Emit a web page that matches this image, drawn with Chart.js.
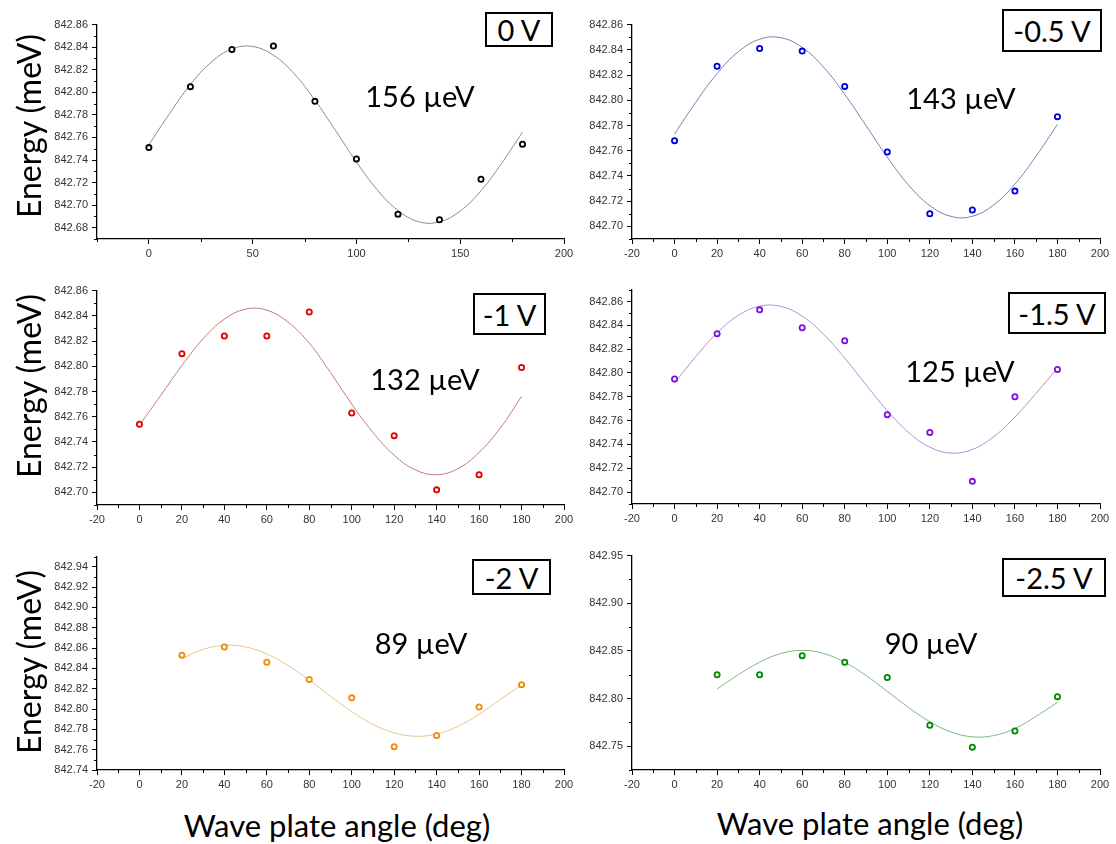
<!DOCTYPE html>
<html>
<head>
<meta charset="utf-8">
<script src="https://cdn.jsdelivr.net/npm/chart.js@4.4.1/dist/chart.umd.min.js"></script>
<style>
    body { margin: 0; width: 1116px; height: 844px; background: #fff; position: relative; overflow: hidden; }
    canvas { position: absolute; }
    .big { position: absolute; font-family: Lato, sans-serif; font-size: 29px; color: #000; white-space: nowrap; transform: translate(-50%, -50%); line-height: 1; }
    .axt { font-size: 31px; }
    .ytitle { font-size: 32px; transform: translate(-50%, -50%) rotate(-90deg); }
    .box { position: absolute; border: 2px solid #000; box-sizing: border-box; font-family: Lato, sans-serif; font-size: 29px; display: flex; align-items: center; justify-content: center; background: #fff; }
</style>
</head>
<body>
<canvas id="p1" width="547" height="250" style="left:37px; top:14px"></canvas>
<canvas id="p2" width="544" height="250" style="left:572px; top:14px"></canvas>
<canvas id="p3" width="547" height="250" style="left:37px; top:280px"></canvas>
<canvas id="p4" width="544" height="250" style="left:572px; top:279px"></canvas>
<canvas id="p5" width="547" height="249" style="left:37px; top:546px"></canvas>
<canvas id="p6" width="544" height="250" style="left:572px; top:545px"></canvas>

<div class="big ytitle" style="left:29px; top:126px">Energy (meV)</div>
<div class="big ytitle" style="left:29px; top:386px">Energy (meV)</div>
<div class="big ytitle" style="left:29px; top:662px">Energy (meV)</div>
<div class="big axt" style="left:337px; top:825px">Wave plate angle (deg)</div>
<div class="big axt" style="left:870px; top:823px">Wave plate angle (deg)</div>

<div class="big" style="left:420px; top:95px">156 µeV</div>
<div class="big" style="left:961px; top:97px">143 µeV</div>
<div class="big" style="left:425px; top:378px">132 µeV</div>
<div class="big" style="left:960px; top:370px">125 µeV</div>
<div class="big" style="left:421px; top:642px">89 µeV</div>
<div class="big" style="left:931px; top:642px">90 µeV</div>

<div class="box" style="left:485px; top:12px; width:68px; height:35px">0 V</div>
<div class="box" style="left:1002px; top:9px; width:100px; height:43px">-0.5 V</div>
<div class="box" style="left:473px; top:293px; width:73px; height:42px">-1 V</div>
<div class="box" style="left:1008px; top:292px; width:98px; height:42px">-1.5 V</div>
<div class="box" style="left:472px; top:559px; width:79px; height:36px">-2 V</div>
<div class="box" style="left:1002px; top:558px; width:104px; height:39px">-2.5 V</div>

<script>
// Measured angles (deg)
const angles = [0, 20, 40, 60, 80, 100, 120, 140, 160, 180];
const angles20 = [20, 40, 60, 80, 100, 120, 140, 160, 180];
// Fit curves sampled every 10 deg
const fitAngles = [0, 10, 20, 30, 40, 50, 60, 70, 80, 90, 100, 110, 120, 130, 140, 150, 160, 170, 180];
const fitAngles20 = [20, 30, 40, 50, 60, 70, 80, 90, 100, 110, 120, 130, 140, 150, 160, 170, 180];

// Peak energies (meV) per bias voltage
const e0V = [842.751, 842.805, 842.838, 842.841, 842.792, 842.741, 842.692, 842.687, 842.723, 842.754];
const eM05V = [842.768, 842.827, 842.841, 842.839, 842.811, 842.759, 842.710, 842.713, 842.728, 842.787];
const eM1V = [842.754, 842.810, 842.824, 842.824, 842.843, 842.763, 842.745, 842.702, 842.714, 842.799];
const eM15V = [842.795, 842.833, 842.853, 842.838, 842.827, 842.765, 842.750, 842.709, 842.780, 842.803];
const eM2V = [842.853, 842.861, 842.846, 842.829, 842.811, 842.763, 842.774, 842.802, 842.824];
const eM25V = [842.825, 842.825, 842.845, 842.838, 842.822, 842.772, 842.749, 842.766, 842.802];

// Sine fits
const fit0V = [842.7536, 842.7813, 842.8069, 842.8266, 842.8384, 842.8406, 842.8329, 842.8164, 842.7930, 842.7660, 842.7382, 842.7136, 842.6953, 842.6853, 842.6852, 842.6948, 842.7128, 842.7372, 842.7647];
const fitM05V = [842.7733, 842.7985, 842.8212, 842.8385, 842.8484, 842.8496, 842.8419, 842.8263, 842.8047, 842.7799, 842.7549, 842.7328, 842.7165, 842.7079, 842.7080, 842.7170, 842.7335, 842.7558, 842.7809];
const fitM1V = [842.7533, 842.7768, 842.8006, 842.8218, 842.8374, 842.8453, 842.8445, 842.8350, 842.8183, 842.7950, 842.7700, 842.7475, 842.7295, 842.7178, 842.7140, 842.7188, 842.7317, 842.7511, 842.7760];
const fitM15V = [842.7916, 842.8138, 842.8336, 842.8484, 842.8561, 842.8559, 842.8477, 842.8326, 842.8125, 842.7901, 842.7684, 842.7501, 842.7377, 842.7327, 842.7358, 842.7465, 842.7630, 842.7830, 842.8040];
const fitM2V = [842.8497, 842.8587, 842.8627, 842.8611, 842.8542, 842.8428, 842.8284, 842.8126, 842.7975, 842.7850, 842.7766, 842.7732, 842.7755, 842.7829, 842.7948, 842.8095, 842.8235];
const fitM25V = [842.8100, 842.8250, 842.8381, 842.8473, 842.8505, 842.8473, 842.8381, 842.8242, 842.8076, 842.7906, 842.7757, 842.7649, 842.7598, 842.7611, 842.7686, 842.7814, 842.7960];

// Axis ticks
const xTicks50 = [0, 50, 100, 150, 200];
const xTicks20 = [-20, 0, 20, 40, 60, 80, 100, 120, 140, 160, 180, 200];
const yTicks0V = [842.68, 842.70, 842.72, 842.74, 842.76, 842.78, 842.80, 842.82, 842.84, 842.86];
const yTicksMid = [842.70, 842.72, 842.74, 842.76, 842.78, 842.80, 842.82, 842.84, 842.86];
const yTicksM2V = [842.74, 842.76, 842.78, 842.80, 842.82, 842.84, 842.86, 842.88, 842.90, 842.92, 842.94];
const yTicksM25V = [842.75, 842.80, 842.85, 842.90, 842.95];

// short ticks between the labelled ones
const minorTicks = {
    id: 'minorTicks',
    afterDraw(chart, args, opts) {
        const ctx = chart.ctx;
        const area = chart.chartArea;
        ctx.save();
        ctx.strokeStyle = '#000';
        ctx.lineWidth = 1;
        ['x', 'y'].forEach(id => {
            const scale = chart.scales[id];
            const step = opts[id];
            const majors = scale.ticks.map(t => t.value);
            const start = Math.ceil(scale.min / step - 1e-6);
            const end = Math.floor(scale.max / step + 1e-6);
            for (let k = start; k <= end; k++) {
                const v = k * step;
                if (majors.some(m => Math.abs(m - v) < step / 10)) continue;
                const p = Math.round(scale.getPixelForValue(v)) + 0.5;
                ctx.beginPath();
                if (id === 'x') {
                    ctx.moveTo(p, area.bottom);
                    ctx.lineTo(p, area.bottom + 3);
                } else {
                    ctx.moveTo(area.left, p);
                    ctx.lineTo(area.left - 3, p);
                }
                ctx.stroke();
            }
        });
        ctx.restore();
    }
};

function toPoints(xs, ys) {
    return xs.map((x, i) => ({ x: x, y: ys[i] }));
}

function makePanel(id, p) {
    const tickFont = { family: 'Liberation Sans, Arial, sans-serif', size: 11 };
    return new Chart(document.getElementById(id), {
        type: 'scatter',
        data: {
            datasets: [{
                data: toPoints(p.xs, p.ys),
                pointStyle: 'circle',
                pointRadius: 2.6,
                pointBorderWidth: 1.8,
                borderColor: p.color,
                backgroundColor: '#fff',
                order: 0
            }, {
                data: toPoints(p.fitXs, p.fit),
                showLine: true,
                pointRadius: 0,
                borderColor: p.lineColor,
                borderWidth: 1,
                tension: 0.4,
                order: 1
            }]
        },
        options: {
            responsive: false,
            animation: false,
            layout: { padding: { top: 10, right: p.padRight, bottom: 0, left: 0 } },
            scales: {
                x: {
                    type: 'linear',
                    min: p.xMin,
                    max: 200,
                    afterBuildTicks: s => { s.ticks = p.xTicks.map(v => ({ value: v })); },
                    afterFit: s => { s.height = 25; },
                    grid: { drawOnChartArea: false, tickLength: 5, tickColor: '#000' },
                    border: { color: '#000', width: 1.3 },
                    ticks: { font: tickFont, color: '#333', padding: 3, maxRotation: 0 }
                },
                y: {
                    min: p.yMin,
                    max: p.yMax,
                    afterBuildTicks: s => { s.ticks = p.yTicks.map(v => ({ value: v })); },
                    afterFit: s => { s.width = 60; },
                    grid: { drawOnChartArea: false, tickLength: 5, tickColor: '#000' },
                    border: { color: '#000', width: 1.3 },
                    ticks: { font: tickFont, color: '#333', padding: 4, callback: v => v.toFixed(2) }
                }
            },
            plugins: {
                legend: { display: false },
                tooltip: { enabled: false },
                minorTicks: { x: p.xMinor, y: p.yMinor }
            }
        },
        plugins: [minorTicks]
    });
}

makePanel('p1', { xs: angles, ys: e0V, fitXs: fitAngles, fit: fit0V, color: '#000', lineColor: '#8a8a8a',
    xMin: -25, xTicks: xTicks50, xMinor: 25, yMin: 842.67, yMax: 842.86, yTicks: yTicks0V, yMinor: 0.01, padRight: 20 });
makePanel('p2', { xs: angles, ys: eM05V, fitXs: fitAngles, fit: fitM05V, color: '#0000dd', lineColor: '#7d7db2',
    xMin: -20, xTicks: xTicks20, xMinor: 10, yMin: 842.69, yMax: 842.86, yTicks: yTicksMid, yMinor: 0.01, padRight: 16 });
makePanel('p3', { xs: angles, ys: eM1V, fitXs: fitAngles, fit: fitM1V, color: '#e00000', lineColor: '#c27a7a',
    xMin: -20, xTicks: xTicks20, xMinor: 10, yMin: 842.69, yMax: 842.86, yTicks: yTicksMid, yMinor: 0.01, padRight: 20 });
makePanel('p4', { xs: angles, ys: eM15V, fitXs: fitAngles, fit: fitM15V, color: '#8010e0', lineColor: '#b58fd4',
    xMin: -20, xTicks: xTicks20, xMinor: 10, yMin: 842.69, yMax: 842.87, yTicks: yTicksMid, yMinor: 0.01, padRight: 16 });
makePanel('p5', { xs: angles20, ys: eM2V, fitXs: fitAngles20, fit: fitM2V, color: '#f08a10', lineColor: '#e6c48e',
    xMin: -20, xTicks: xTicks20, xMinor: 10, yMin: 842.74, yMax: 842.95, yTicks: yTicksM2V, yMinor: 0.01, padRight: 20 });
makePanel('p6', { xs: angles20, ys: eM25V, fitXs: fitAngles20, fit: fitM25V, color: '#008a00', lineColor: '#80b880',
    xMin: -20, xTicks: xTicks20, xMinor: 10, yMin: 842.725, yMax: 842.95, yTicks: yTicksM25V, yMinor: 0.025, padRight: 16 });
</script>
</body>
</html>
